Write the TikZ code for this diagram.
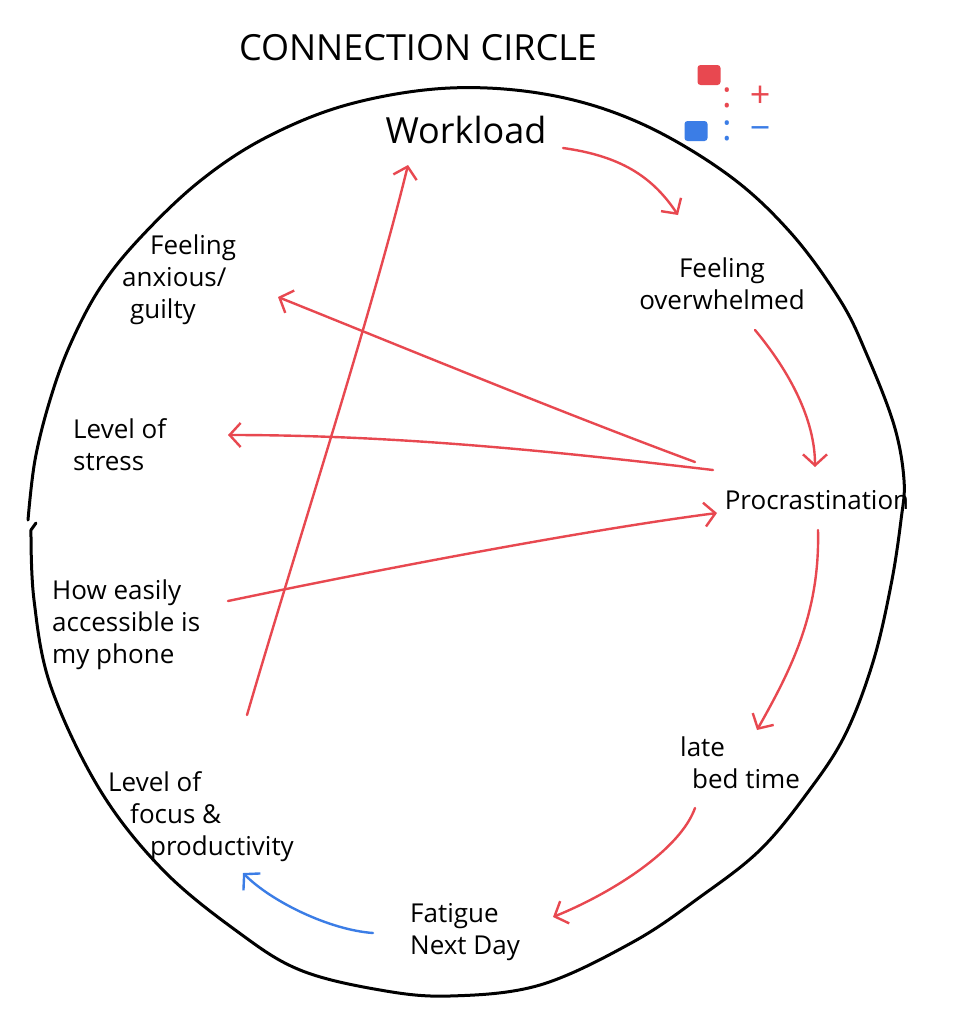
\documentclass[tikz,border=0pt]{standalone}
\usepackage{fontspec}
\setmainfont{Open Sans}
\usetikzlibrary{arrows.meta}
\definecolor{pos}{RGB}{232,72,80}
\definecolor{neg}{RGB}{59,125,230}
\tikzset{
  lbl/.style={font=\fontsize{26}{32}\selectfont, inner sep=0pt, align=left, text=black},
  link/.style={draw=pos, line width=2.4pt, line cap=round, -{Straight Barb[length=11pt,width=24pt]}},
  neglink/.style={link, draw=neg},
  rim/.style={draw=black, line width=3pt, line cap=round, line join=round},
  legsq/.style={minimum width=23pt, minimum height=20pt, inner sep=0pt, rounded corners=3pt},
  legtxt/.style={lbl, anchor=west, font=\fontsize{36}{40}\selectfont}
}
\begin{document}
\begin{tikzpicture}[x=1pt,y=-1pt]
\useasboundingbox[fill=white] (0,0) rectangle (968,1028);

% rim
\draw[rim] (36,523) -- plot[smooth, tension=0.6] coordinates {
 (31,530) (34,600) (51,687) (100,790) (163,870) (238,932) (300,970)
 (380,990) (450,996) (540,985) (633,942) (700,897) (760,850) (808,792)
 (845,735) (873,662) (891,585) (901,520) (904,480) (894,425) (867,355)
 (840,300) (790,232) (727,174) (640,123) (550,95) (450,88) (350,104)
 (267,137) (200,181) (140,238) (100,288) (70,345) (50,400) (35,460) (28,520)};

% title
\node[lbl, font=\fontsize{36}{40}\selectfont] (title) at (418,48) {CONNECTION CIRCLE};

% legend
\node[legsq, fill=pos] (lp) at (709,75) {};
\node[legtxt, text=pos] (lpt) at (722,97) {:\hspace{18pt}+};
\node[legsq, fill=neg] (ln) at (696,131) {};
\node[legtxt, text=neg] (lnt) at (722,131) {:\hspace{18pt}−};

% variables
\node[lbl, font=\fontsize{36}{40}\selectfont] (wl) at (466,130) {Workload};
\node[lbl, align=center] (fo) at (722,284) {Feeling\\overwhelmed};
\node[lbl] (pr) at (817,500) {Procrastination};
\node[lbl, anchor=west] (lb) at (680,763) {late\\\hspace{12pt}bed time};
\node[lbl, anchor=west] (fa) at (410,932) {Fatigue\\Next Day};
\node[lbl, anchor=west] (lf) at (108,817) {Level of\\\hspace{22pt}focus \&\\\hspace{42pt}productivity};
\node[lbl, anchor=west] (ph) at (52,625) {How easily\\accessible is\\my phone};
\node[lbl, anchor=west] (ls) at (73,445) {Level of\\stress};
\node[lbl, anchor=west] (ax) at (122,280) {\hspace{28pt}Feeling\\anxious/\\\hspace{8pt}guilty};

% links
\draw[link] ([shift={(97,18)}]wl.center) .. controls (620,156) and (652,176) .. ([shift={(-44,-69)}]fo.center);
\draw[link] ([shift={(33,46)}]fo.center) .. controls (790,372) and (815,420) .. ([shift={(-2,-33)}]pr.center);
\draw[link] ([shift={(1,30)}]pr.center) .. controls (820,612) and (792,668) .. ([shift={(77,-33)}]lb.west);
\draw[link] ([shift={(15,45)}]lb.west) .. controls (680,850) and (612,893) .. ([shift={(143,-15)}]fa.west);
\draw[neglink] ([shift={(-37,1)}]fa.west) .. controls (330,930) and (272,902) .. ([shift={(135,56)}]lf.west);
\draw[link] ([shift={(139,-102)}]lf.west) .. controls (292,560) and (370,320) .. ([shift={(-58,35)}]wl.center);
\draw[link] ([shift={(-122,-38)}]pr.center) .. controls (560,412) and (400,346) .. ([shift={(156,17)}]ax.west);
\draw[link] ([shift={(-104,-30)}]pr.center) .. controls (560,452) and (400,435) .. ([shift={(155,-10)}]ls.west);
\draw[link] ([shift={(176,-24)}]ph.west) .. controls (400,565) and (600,528) .. ([shift={(-100,13)}]pr.center);
\end{tikzpicture}
\end{document}
